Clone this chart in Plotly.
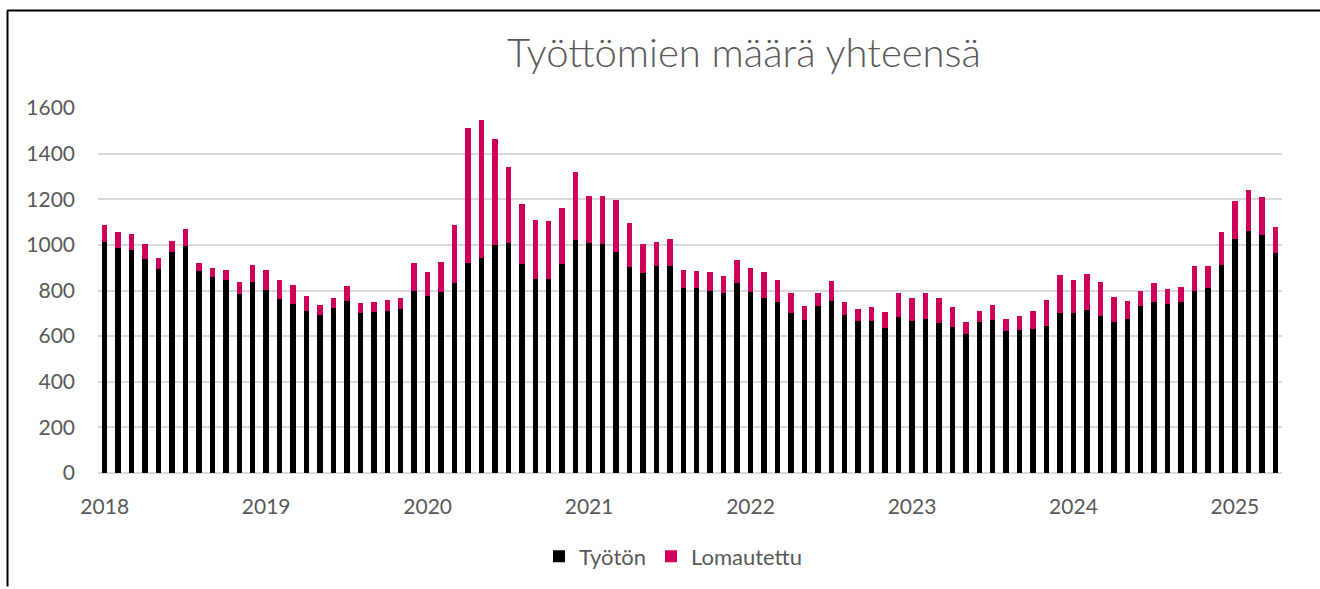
import pandas as pd
import plotly.graph_objects as go

# Categories: monthly, Jan 2018 .. Apr 2025
months = list(pd.date_range("2018-01-01", periods=88, freq="MS").strftime("%Y-%m"))
year_ticks = ["2018-01", "2019-01", "2020-01", "2021-01", "2022-01", "2023-01", "2024-01", "2025-01"]
year_labels = ["2018", "2019", "2020", "2021", "2022", "2023", "2024", "2025"]

# Työtön (unemployed)
tyoton = [
    1014, 985, 979, 938, 896, 967, 996, 884, 858, 848, 783, 836,   # 2018
    803, 762, 740, 708, 694, 723, 752, 700, 705, 708, 717, 800,    # 2019
    778, 794, 833, 919, 944, 1001, 1009, 915, 852, 852, 918, 1023, # 2020
    1009, 1006, 969, 902, 876, 908, 906, 809, 813, 800, 791, 833,  # 2021
    794, 769, 748, 700, 672, 730, 756, 691, 666, 665, 634, 682,    # 2022
    665, 673, 659, 639, 608, 660, 671, 624, 627, 630, 643, 700,    # 2023
    700, 713, 687, 662, 673, 730, 751, 743, 748, 800, 809, 911,    # 2024
    1024, 1059, 1044, 966,                                          # 2025
]

# Lomautettu (temporarily laid off)
lomautettu = [
    72, 72, 67, 67, 45, 48, 72, 35, 41, 44, 53, 76,          # 2018
    89, 86, 85, 69, 41, 46, 67, 46, 46, 50, 52, 119,         # 2019
    105, 130, 252, 594, 602, 464, 331, 266, 259, 253, 244, 296,  # 2020
    204, 207, 227, 193, 126, 104, 119, 81, 73, 81, 73, 101,  # 2021
    106, 112, 99, 90, 60, 61, 86, 57, 54, 62, 71, 108,       # 2022
    100, 118, 109, 88, 54, 50, 65, 52, 61, 78, 116, 170,     # 2023
    147, 161, 151, 110, 80, 66, 84, 63, 67, 106, 99, 146,    # 2024
    170, 182, 165, 113,                                      # 2025
]

GRAY_TXT = "#595959"
GRID = "#d9d9d9"
FONT = "Lato"

fig = go.Figure()
fig.add_trace(go.Bar(x=months, y=tyoton, name="Työtön",
                     marker=dict(color="#000000", line=dict(width=0))))
fig.add_trace(go.Bar(x=months, y=lomautettu, name="Lomautettu",
                     marker=dict(color="#CF0059", line=dict(width=0))))

# plot area in pixels
L, R, T, B = 98, 1282, 108, 475
W, H = 1320, 589

def px_x(p):
    return (p - L) / (R - L)

def px_y(p):
    return (B - p) / (B - T)

fig.update_layout(
    width=W, height=H, autosize=False,
    margin=dict(l=L, r=W - R, t=T, b=H - B, pad=0),
    barmode="stack", bargap=0.59,
    paper_bgcolor="white", plot_bgcolor="white",
    font=dict(family=FONT, color=GRAY_TXT, size=21),
    title=dict(text="Työttömien määrä yhteensä",
               font=dict(family=FONT, size=40, color=GRAY_TXT, weight=300),
               x=744 / W, xref="container", xanchor="center",
               y=1 - 53 / H, yref="container", yanchor="middle"),
    legend=dict(orientation="h", x=px_x(673), xanchor="center",
                y=px_y(559), yanchor="middle",
                font=dict(family=FONT, size=22, color=GRAY_TXT),
                itemwidth=30, traceorder="normal"),
    xaxis=dict(type="category", categoryorder="array", categoryarray=months,
               range=[-0.5, len(months) - 0.5],
               tickvals=year_ticks, ticktext=year_labels,
               showgrid=False, showline=False, zeroline=False, ticks="",
               tickfont=dict(family=FONT, size=21, color=GRAY_TXT),
               ticklabelstandoff=19),
    yaxis=dict(range=[0, 1600], dtick=200, tick0=0,
               showgrid=True, gridcolor=GRID, gridwidth=1.5,
               zeroline=True, zerolinecolor=GRID, zerolinewidth=1.5,
               showline=False, ticks="",
               tickfont=dict(family=FONT, size=21, color=GRAY_TXT),
               ticklabelstandoff=22),
    shapes=[
        dict(type="line", xref="paper", yref="paper",
             x0=px_x(7), x1=px_x(W), y0=px_y(10), y1=px_y(10),
             line=dict(color="black", width=2)),
        dict(type="line", xref="paper", yref="paper",
             x0=px_x(7.5), x1=px_x(7.5), y0=px_y(10), y1=px_y(H),
             line=dict(color="black", width=2)),
    ],
)

fig.write_html("out.html",
               config={"displayModeBar": False},
               post_script="document.body.style.margin='0';document.body.style.padding='0';")
